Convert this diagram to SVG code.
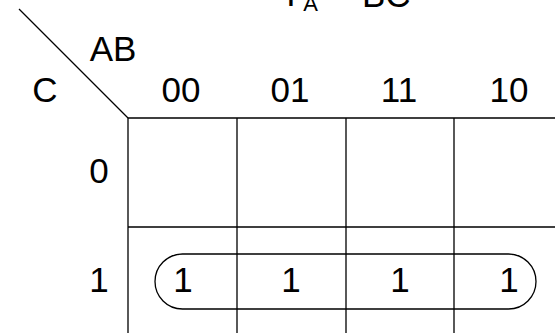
<svg xmlns="http://www.w3.org/2000/svg" width="555" height="333" viewBox="0 0 555 333">
<style>
text{font-family:"Liberation Sans",Arial,sans-serif;font-size:35px;fill:#000;text-anchor:middle}
.ln{stroke:#000;stroke-width:1.3;fill:none}
</style>
<rect width="555" height="333" fill="#fff"/>
<g id="title"><text x="291" y="6">Y</text><text x="310.5" y="11" style="font-size:22px">A</text><text x="338" y="2">=</text><text x="362" y="7" style="text-anchor:start">BC</text></g>
<g id="connectors">
<line class="ln" x1="19" y1="9" x2="128" y2="118"/>
<path class="ln" d="M128 118H560M128 227H560M128 118V340M237 118V340M346 118V340M454 118V340"/>
<rect id="group" class="ln" x="155" y="254" width="381" height="55" rx="27.5" ry="27.5"/>
</g>
<g id="labels">
<text x="113" y="61">AB</text>
<text x="45" y="102">C</text>
<text x="181" y="102">00</text>
<text x="290" y="102">01</text>
<text x="399" y="102">11</text>
<text x="509" y="102">10</text>
<text x="99" y="183">0</text>
<text x="99" y="292">1</text>
</g>
<g id="cells">
<text x="183" y="292">1</text>
<text x="291" y="292">1</text>
<text x="400" y="292">1</text>
<text x="509" y="292">1</text>
</g>
</svg>
